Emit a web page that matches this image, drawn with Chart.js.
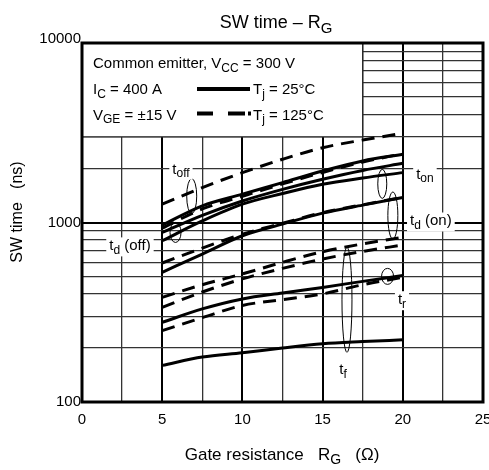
<!DOCTYPE html>
<html>
<head>
<meta charset="utf-8">
<script src="https://cdn.jsdelivr.net/npm/chart.js@4.4.1/dist/chart.umd.min.js"></script>
<style>
  html, body { margin: 0; padding: 0; background: #fff; }
</style>
</head>
<body>
<canvas id="swTimeChart" width="489" height="470"></canvas>
<script>
  // Resistencia de puerta (ohm) donde se leen las curvas
  var resistencia = [5, 7.5, 10, 12.5, 15, 17.5, 20];

  // Tiempos de conmutación (ns), Tj = 25°C (línea continua)
  var toff_25  = [967, 1238, 1438, 1668, 1937, 2203, 2400];
  var tdoff_25 = [880, 1096, 1318, 1530, 1742, 1950, 2137];
  var ton_25   = [791, 1020, 1265, 1450, 1634, 1770, 1896];
  var tdon_25  = [528, 667, 844, 980, 1128, 1250, 1377];
  var tr_25    = [278, 330, 375, 405, 435, 470, 506];
  var tf_25    = [160, 178, 188, 200, 211, 217, 222];

  // Tiempos de conmutación (ns), Tj = 125°C (línea discontinua)
  var toff_125  = [1265, 1565, 1896, 2250, 2610, 2880, 3140];
  var tdoff_125 = [930, 1190, 1400, 1640, 1900, 2170, 2420];
  var ton_125   = [595, 720, 860, 990, 1135, 1255, 1380];
  var tdon_125  = [383, 450, 517, 600, 687, 760, 826];
  var tr_125    = [250, 295, 345, 372, 400, 450, 495];
  var tf_125    = [337, 410, 485, 555, 626, 690, 749];

  // Etiquetas de los ejes
  var ticks_x = [0, 5, 10, 15, 20, 25];
  var ticks_y = [100, 1000, 10000];

  var fuente = 'Liberation Sans, Arial, Helvetica, sans-serif';

  // Convierte una serie en puntos {x, y}
  function puntos(valores) {
    return valores.map(function (v, i) { return { x: resistencia[i], y: v }; });
  }

  function serie(nombre, valores, discontinua) {
    return {
      label: nombre,
      data: puntos(valores),
      borderColor: '#000',
      borderWidth: 3,
      borderDash: discontinua ? [13, 8] : [],
      pointRadius: 0,
      cubicInterpolationMode: 'monotone',
      fill: false
    };
  }

  // Elipses que agrupan cada par de curvas (centro en valores de los ejes, radios en px)
  var elipses = [
    { x: 6.84, y: 1403, rx: 5, ry: 17.5 },
    { x: 5.83, y: 880, rx: 5.5, ry: 10 },
    { x: 18.72, y: 1641, rx: 4.5, ry: 14.5 },
    { x: 19.38, y: 1094, rx: 5, ry: 23.5 },
    { x: 16.52, y: 371, rx: 5, ry: 52.5 },
    { x: 19.05, y: 501, rx: 6, ry: 8 }
  ];

  // Rótulos de cada magnitud: [texto, es subíndice]
  var rotulos = [
    { x: 6.17, y: 1970, partes: [['t', false], ['off', true]] },
    { x: 2.99, y: 736, partes: [['t', false], ['d', true], [' (off)', false]] },
    { x: 21.38, y: 1848, partes: [['t', false], ['on', true]] },
    { x: 21.75, y: 1013, partes: [['t', false], ['d', true], [' (on)', false]] },
    { x: 19.95, y: 369, partes: [['t', false], ['r', true]] },
    { x: 16.27, y: 150, partes: [['t', false], ['f', true]] }
  ];

  // Mide un texto con subíndices
  function medirTexto(ctx, partes, tam) {
    var ancho = 0;
    partes.forEach(function (p) {
      ctx.font = (p[1] ? Math.round(tam * 0.82) : tam) + 'px ' + fuente;
      ancho += ctx.measureText(p[0]).width;
    });
    return ancho;
  }

  // Dibuja un texto con subíndices a partir de la línea base
  function dibujarTexto(ctx, partes, x, y, tam, alinear) {
    var ancho = medirTexto(ctx, partes, tam);
    var px = x;
    if (alinear === 'center') px = x - ancho / 2;
    if (alinear === 'right') px = x - ancho;
    ctx.textAlign = 'left';
    ctx.textBaseline = 'alphabetic';
    ctx.fillStyle = '#000';
    partes.forEach(function (p) {
      var t = p[1] ? Math.round(tam * 0.82) : tam;
      ctx.font = t + 'px ' + fuente;
      ctx.fillText(p[0], px, y + (p[1] ? tam * 0.25 : 0));
      px += ctx.measureText(p[0]).width;
    });
    return ancho;
  }

  var anotaciones = {
    id: 'anotaciones',
    afterDatasetsDraw: function (chart) {
      var ctx = chart.ctx;
      var area = chart.chartArea;
      var ex = chart.scales.x;
      var ey = chart.scales.y;
      ctx.save();

      // Recuadro de condiciones de ensayo
      var bx = ex.getPixelForValue(17.5);
      var by = ey.getPixelForValue(3000);
      ctx.fillStyle = '#fff';
      ctx.fillRect(area.left, area.top, bx - area.left, by - area.top);
      ctx.strokeStyle = '#222';
      ctx.lineWidth = 1.3;
      ctx.beginPath();
      ctx.moveTo(bx, area.top);
      ctx.lineTo(bx, by);
      ctx.lineTo(area.left, by);
      ctx.stroke();

      dibujarTexto(ctx, [['Common emitter, V', false], ['CC', true], [' = 300 V', false]], 93, 68, 15, 'left');
      dibujarTexto(ctx, [['I', false], ['C', true], [' = 400 A', false]], 93, 94, 15, 'left');
      dibujarTexto(ctx, [['V', false], ['GE', true], [' = \u00b115 V', false]], 93, 119.5, 15, 'left');
      dibujarTexto(ctx, [['T', false], ['j', true], [' = 25\u00b0C', false]], 253, 94, 15, 'left');
      dibujarTexto(ctx, [['T', false], ['j', true], [' = 125\u00b0C', false]], 253, 119.5, 15, 'left');

      ctx.strokeStyle = '#000';
      ctx.lineWidth = 4;
      ctx.beginPath();
      ctx.moveTo(197, 89);
      ctx.lineTo(250, 89);
      ctx.stroke();
      ctx.beginPath();
      ctx.moveTo(197, 113.5); ctx.lineTo(213, 113.5);
      ctx.moveTo(228, 113.5); ctx.lineTo(245, 113.5);
      ctx.moveTo(248, 113.5); ctx.lineTo(251, 113.5);
      ctx.stroke();

      // Elipses
      ctx.lineWidth = 1;
      elipses.forEach(function (e) {
        ctx.beginPath();
        ctx.ellipse(ex.getPixelForValue(e.x), ey.getPixelForValue(e.y), e.rx, e.ry, 0, 0, Math.PI * 2);
        ctx.stroke();
      });

      // Rótulos con fondo blanco
      rotulos.forEach(function (r) {
        var cx = ex.getPixelForValue(r.x);
        var cy = ey.getPixelForValue(r.y);
        var ancho = medirTexto(ctx, r.partes, 15);
        ctx.fillStyle = '#fff';
        ctx.fillRect(cx - ancho / 2 - 3, cy - 9, ancho + 6, 19);
        dibujarTexto(ctx, r.partes, cx, cy + 4, 15, 'center');
      });

      // Marco del gráfico
      ctx.strokeStyle = '#000';
      ctx.lineWidth = 3;
      ctx.strokeRect(area.left, area.top, area.right - area.left, area.bottom - area.top);
      ctx.restore();
    },
    afterDraw: function (chart) {
      var ctx = chart.ctx;
      var area = chart.chartArea;
      var ex = chart.scales.x;
      var ey = chart.scales.y;
      ctx.save();
      ctx.fillStyle = '#000';
      ctx.font = '15px ' + fuente;

      // Etiquetas del eje Y
      ctx.textAlign = 'right';
      ctx.textBaseline = 'middle';
      ticks_y.forEach(function (v) {
        var py = ey.getPixelForValue(v);
        if (v === 10000) py -= 4;
        ctx.fillText(String(v), area.left - 1, py);
      });

      // Etiquetas del eje X
      ctx.textAlign = 'center';
      ctx.textBaseline = 'top';
      ticks_x.forEach(function (v) {
        ctx.fillText(String(v), ex.getPixelForValue(v), area.bottom + 10);
      });

      // Título
      dibujarTexto(ctx, [['SW time \u2013 R', false], ['G', true]], 276, 28, 18, 'center');

      // Título del eje X
      dibujarTexto(ctx, [['Gate resistance   R', false], ['G', true], ['   (\u03a9)', false]], 282, 460, 17, 'center');

      // Título del eje Y
      ctx.translate(22, 212);
      ctx.rotate(-Math.PI / 2);
      dibujarTexto(ctx, [['SW time   (ns)', false]], 0, 0, 16, 'center');
      ctx.restore();
    }
  };

  // Configuración del gráfico
  var swConfig = {
    type: 'line',
    data: {
      datasets: [
        serie('toff 25°C', toff_25, false),
        serie('td(off) 25°C', tdoff_25, false),
        serie('ton 25°C', ton_25, false),
        serie('td(on) 25°C', tdon_25, false),
        serie('tr 25°C', tr_25, false),
        serie('tf 25°C', tf_25, false),
        serie('toff 125°C', toff_125, true),
        serie('td(off) 125°C', tdoff_125, true),
        serie('ton 125°C', ton_125, true),
        serie('td(on) 125°C', tdon_125, true),
        serie('tr 125°C', tr_125, true),
        serie('tf 125°C', tf_125, true)
      ]
    },
    options: {
      responsive: false,
      animation: false,
      devicePixelRatio: 1,
      layout: { padding: { left: 82, right: 6, top: 43, bottom: 68 } },
      plugins: {
        legend: { display: false },
        title: { display: false },
        tooltip: { enabled: false }
      },
      scales: {
        x: {
          type: 'linear',
          min: 0,
          max: 25,
          ticks: { display: false, stepSize: 2.5 },
          border: { display: false },
          grid: {
            drawTicks: false,
            color: function (c) { return c.tick.value % 5 === 0 ? '#000' : '#333'; },
            lineWidth: function (c) { return c.tick.value % 5 === 0 ? 2 : 1.3; }
          },
          afterFit: function (scale) { scale.height = 0; }
        },
        y: {
          type: 'logarithmic',
          min: 100,
          max: 10000,
          ticks: { display: false },
          border: { display: false },
          grid: {
            drawTicks: false,
            color: function (c) { return [100, 1000, 10000].indexOf(c.tick.value) >= 0 ? '#000' : '#333'; },
            lineWidth: function (c) { return [100, 1000, 10000].indexOf(c.tick.value) >= 0 ? 2 : 1.3; }
          },
          afterBuildTicks: function (scale) {
            var lista = [];
            [100, 1000].forEach(function (d) {
              for (var k = 1; k < 10; k++) lista.push({ value: d * k });
            });
            lista.push({ value: 10000 });
            scale.ticks = lista;
          },
          afterFit: function (scale) { scale.width = 0; }
        }
      }
    },
    plugins: [anotaciones]
  };

  var swCtx = document.getElementById('swTimeChart').getContext('2d');
  var swChart = new Chart(swCtx, swConfig);
</script>
</body>
</html>
